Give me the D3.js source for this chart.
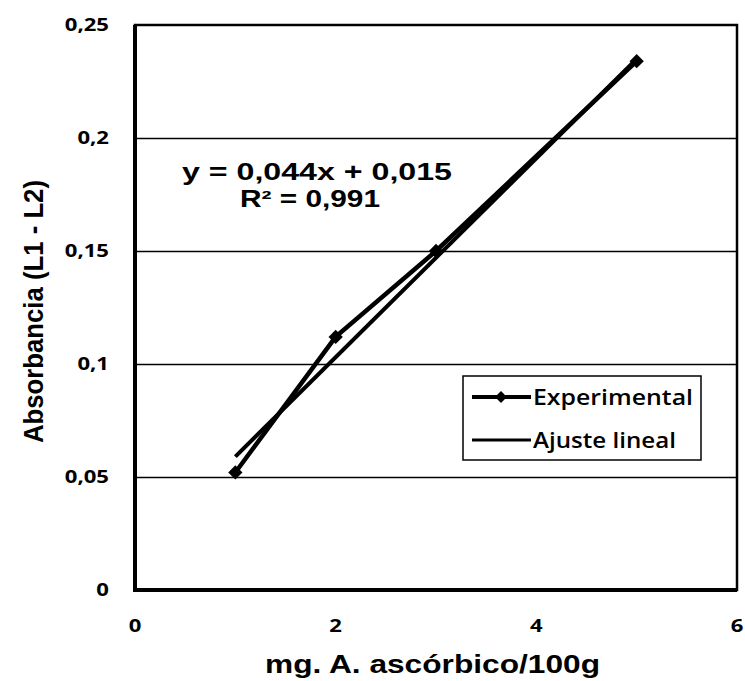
<!DOCTYPE html>
<html>
<head>
<meta charset="utf-8">
<script src="https://cdn.jsdelivr.net/npm/d3@7"></script>
<style>
  body { margin: 0; background: #fff; }
  svg { display: block; }
</style>
</head>
<body>
<div id="container"></div>
<script>
// data
const concentrations = [1, 2, 3, 5];
const absorbances = [0.052, 0.112, 0.15, 0.234];
const fitSlope = 0.044, fitIntercept = 0.015;
const fitRange = [1, 5];
const xTicks = [0, 2, 4, 6];
const yTicks = [0, 0.05, 0.1, 0.15, 0.2, 0.25];
const yTickLabels = ["0", "0,05", "0,1", "0,15", "0,2", "0,25"];
const seriesNames = ["Experimental", "Ajuste lineal"];

const width = 745, height = 681;
const margin = { top: 25, right: 8, bottom: 91, left: 135 };

const svg = d3.select("#container").append("svg")
  .attr("width", width).attr("height", height);

const x = d3.scaleLinear().domain([0, 6]).range([margin.left, width - margin.right]);
const y = d3.scaleLinear().domain([0, 0.25]).range([height - margin.bottom, margin.top]);

const tickFont = "Open Sans, sans-serif";
const boldFont = "Liberation Sans, Arial, sans-serif";

// gridlines
svg.selectAll("line.grid")
  .data(yTicks.slice(1, -1))
  .join("line")
  .attr("class", "grid")
  .attr("x1", x(0)).attr("x2", x(6))
  .attr("y1", d => Math.round(y(d)) + 0.5).attr("y2", d => Math.round(y(d)) + 0.5)
  .attr("stroke", "#000").attr("stroke-width", 1.5);

// plot frame
svg.append("rect")
  .attr("x", x(0)).attr("y", y(0.25))
  .attr("width", x(6) - x(0)).attr("height", y(0) - y(0.25))
  .attr("fill", "none").attr("stroke", "#000").attr("stroke-width", 2.5);
svg.append("path")
  .attr("d", `M${x(0)},${y(0.25)}V${y(0)}H${x(6)}`)
  .attr("fill", "none").attr("stroke", "#000").attr("stroke-width", 4);

// tick labels (the scan is stretched sideways, so the labels are too)
svg.selectAll("text.ytick")
  .data(yTicks)
  .join("text")
  .attr("class", "ytick")
  .attr("transform", d => `translate(109,${y(d) + 6}) scale(1.3,1)`)
  .attr("text-anchor", "end")
  .attr("font-family", tickFont).attr("font-weight", "bold")
  .attr("font-size", 17)
  .text((d, i) => yTickLabels[i]);

svg.selectAll("text.xtick")
  .data(xTicks)
  .join("text")
  .attr("class", "xtick")
  .attr("transform", d => `translate(${x(d)},632) scale(1.3,1)`)
  .attr("text-anchor", "middle")
  .attr("font-family", tickFont).attr("font-weight", "bold")
  .attr("font-size", 17)
  .text(d => d);

// axis titles
svg.append("text")
  .attr("x", 265).attr("y", 673)
  .attr("textLength", 335).attr("lengthAdjust", "spacingAndGlyphs")
  .attr("font-family", boldFont).attr("font-weight", "bold")
  .attr("font-size", 25)
  .text("mg. A. ascórbico/100g");

svg.append("text")
  .attr("transform", "translate(43,443) rotate(-90)")
  .attr("textLength", 263).attr("lengthAdjust", "spacingAndGlyphs")
  .attr("font-family", boldFont).attr("font-weight", "bold")
  .attr("font-size", 27)
  .text("Absorbancia (L1 - L2)");

// fit line
const fitData = fitRange.map(v => [v, fitSlope * v + fitIntercept]);
svg.append("path")
  .datum(fitData)
  .attr("d", d3.line().x(d => x(d[0])).y(d => y(d[1])))
  .attr("fill", "none").attr("stroke", "#000").attr("stroke-width", 4);

// experimental series
const pts = concentrations.map((c, i) => [c, absorbances[i]]);
svg.append("path")
  .datum(pts)
  .attr("d", d3.line().x(d => x(d[0])).y(d => y(d[1])))
  .attr("fill", "none").attr("stroke", "#000").attr("stroke-width", 4.5);

const diamond = d3.symbol().type(d3.symbolDiamond2).size(130);
svg.selectAll("path.marker")
  .data(pts)
  .join("path")
  .attr("class", "marker")
  .attr("d", diamond)
  .attr("transform", d => `translate(${x(d[0])},${y(d[1])})`)
  .attr("fill", "#000");

// equation
const fmt = v => String(v).replace(".", ",");
svg.append("text")
  .attr("x", 182).attr("y", 180)
  .attr("textLength", 270).attr("lengthAdjust", "spacingAndGlyphs")
  .attr("font-family", boldFont).attr("font-weight", "bold")
  .attr("font-size", 23)
  .text(`y = ${fmt(fitSlope)}x + ${fmt(fitIntercept)}`);
svg.append("text")
  .attr("x", 240).attr("y", 207)
  .attr("textLength", 140).attr("lengthAdjust", "spacingAndGlyphs")
  .attr("font-family", boldFont).attr("font-weight", "bold")
  .attr("font-size", 23)
  .text("R² = 0,991");

// legend
const legend = svg.append("g").attr("transform", "translate(463,376)");
legend.append("rect")
  .attr("width", 238).attr("height", 84)
  .attr("fill", "#fff").attr("stroke", "#000").attr("stroke-width", 1.5);
const legendTextLen = [160, 143];
seriesNames.forEach((name, i) => {
  const ly = 21 + i * 43;
  legend.append("line")
    .attr("x1", 9).attr("x2", 68).attr("y1", ly).attr("y2", ly)
    .attr("stroke", "#000").attr("stroke-width", i === 0 ? 4 : 3);
  if (i === 0) {
    legend.append("path")
      .attr("d", d3.symbol().type(d3.symbolDiamond2).size(90))
      .attr("transform", `translate(38,${ly})`)
      .attr("fill", "#000");
  }
  legend.append("text")
    .attr("x", 70).attr("y", ly + 8)
    .attr("textLength", legendTextLen[i]).attr("lengthAdjust", "spacingAndGlyphs")
    .attr("font-family", tickFont).attr("font-weight", 600)
    .attr("font-size", 21)
    .text(name);
});
</script>
</body>
</html>
